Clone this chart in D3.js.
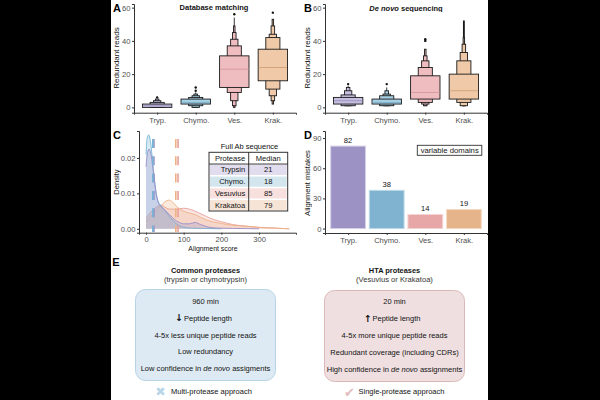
<!DOCTYPE html>
<html>
<head>
<meta charset="utf-8">
<script src="https://cdn.jsdelivr.net/npm/d3@7"></script>
<style>
  html, body { margin: 0; padding: 0; background: #000; }
  svg { display: block; font-family: "Liberation Sans", Arial, sans-serif; }
  svg text { opacity: 0.99; }
  .tick text { fill: #4d4d4d; font-size: 7.6px; font-family: "Liberation Sans", Arial, sans-serif; }
  .tick line, .domain { stroke: #333; }
</style>
</head>
<body>
<svg id="chart" width="600" height="400"></svg>
<script>
const categories = ['Tryp.', 'Chymo.', 'Ves.', 'Krak.'];
const proteases = ['Trypsin', 'Chymo.', 'Vesuvius', 'Krakatoa'];
const medians = [21, 18, 85, 79];
const mistakes = [82, 38, 14, 19];

// letter values, widest box first: [low, high]
const dbLevels = [
  [[0, 2], [0, 3], [0, 4], [0, 5]],
  [[2, 5], [1, 6], [0, 7], [0, 8]],
  [[12, 31], [9, 37], [4, 41], [1, 45], [0, 49]],
  [[16, 35], [11, 42], [7, 44], [4, 49], [2, 53]]
];
const dbMedians = [1, 3, 23, 24];
const dbWhiskers = [[0, 5], [0, 9], [0, 54], [2, 53]];
const dbOutliers = [[6], [10, 12], [56], [57]];

const dnLevels = [
  [[2, 6], [1, 7.5], [1, 10], [1, 12]],
  [[2, 5], [1, 7], [1, 8], [1, 10]],
  [[5, 19], [3, 24], [2, 28], [1, 31], [1, 35]],
  [[5, 20], [3, 28], [1, 33], [1, 38], [1, 42], [1, 52]]
];
const dnMedians = [4, 3, 9, 10];
const dnWhiskers = [[1, 13], [1, 12], [1, 35], [1, 52]];
const dnOutliers = [[14], [14], [40, 41], []];

const levelWidths = [1, 0.48, 0.25, 0.12, 0.05, 0.03];

const densityX = {
  tryp: [0, 4, 8, 14, 20, 26, 32, 40, 50, 60, 70, 80, 90, 100, 115, 130, 145, 165, 190, 230, 300],
  chymo: [0, 3, 7, 12, 18, 24, 30, 38, 48, 60, 70, 80, 90, 100, 120, 150, 200],
  ves: [0, 20, 40, 60, 80, 100, 120, 140, 160, 180, 200, 230, 260, 300, 340, 380],
  krak: [0, 20, 40, 60, 70, 80, 100, 130, 160, 180, 200, 230, 260, 300, 340, 380]
};
const densityY = {
  tryp: [0.0175, 0.0215, 0.0225, 0.0205, 0.0155, 0.0105, 0.0075, 0.0062, 0.0053, 0.0042, 0.0032, 0.0023, 0.0017, 0.0014, 0.0014, 0.0018, 0.0012, 0.0005, 0.0002, 0.0001, 0],
  chymo: [0.021, 0.0255, 0.0265, 0.0245, 0.0185, 0.0125, 0.0085, 0.0068, 0.0055, 0.0038, 0.0025, 0.0015, 0.0008, 0.0005, 0.0002, 0.0001, 0],
  ves: [0.003, 0.0055, 0.0066, 0.0056, 0.0055, 0.0058, 0.0054, 0.0045, 0.0035, 0.0026, 0.002, 0.0012, 0.0008, 0.0004, 0.0002, 0],
  krak: [0.002, 0.0045, 0.0066, 0.0081, 0.0076, 0.0064, 0.005, 0.004, 0.0025, 0.0019, 0.0015, 0.001, 0.0008, 0.0004, 0.0002, 0]
};

const fills = ['#c6bfe0', '#a8d0e4', '#efbcc0', '#f0caa8'];
const medianColors = ['#9f95c4', '#7eb2cf', '#d99a9e', '#d3a47c'];
const lineColors = ['#9b8fc9', '#74b6d3', '#e8a09c', '#eeb184'];
const barFills = ['#9d92c4', '#7fb3d0', '#e7a7a7', '#e6b48a'];
const barStrokes = ['#d5d0e8', '#bcd9e8', '#f3d3d3', '#f3dac5'];
const rowFills = ['#e1ddee', '#d3e5ed', '#f7e0de', '#f6e5d7'];

const svg = d3.select('#chart');
svg.append('rect').attr('x', 111).attr('y', 0).attr('width', 377).attr('height', 400).attr('fill', '#fff');

function addText(x, y, str, opts = {}) {
  return svg.append('text')
    .attr('x', x).attr('y', y)
    .attr('text-anchor', opts.anchor || 'middle')
    .attr('dominant-baseline', 'central')
    .attr('font-size', opts.size || 7.5)
    .attr('font-weight', opts.weight || 'normal')
    .attr('font-family', opts.family || null)
    .attr('fill', opts.fill || '#111')
    .text(str);
}

function addYTitle(x, y, str, size) {
  addText(0, 0, str, { size: size || 7.6 }).attr('transform', `translate(${x},${y}) rotate(-90)`);
}

function drawAxes(xScale, yScale, yTicks, yFormat, baseline, left) {
  svg.append('g').attr('transform', `translate(0,${baseline})`)
    .call(d3.axisBottom(xScale).tickSizeOuter(0).tickSize(2).tickPadding(2.5));
  svg.append('g').attr('transform', `translate(${left},0)`)
    .call(d3.axisLeft(yScale).tickValues(yTicks).tickFormat(yFormat).tickSizeOuter(0).tickSize(2).tickPadding(1.5));
}

function drawLetterValues(x, y, levels, meds, whiskers, outliers) {
  categories.forEach((cat, i) => {
    const cx = x(cat);
    svg.append('line')
      .attr('x1', cx).attr('x2', cx)
      .attr('y1', y(whiskers[i][0])).attr('y2', y(whiskers[i][1]))
      .attr('stroke', '#222').attr('stroke-width', 0.9);
    // narrow boxes go first so the wide one stays on top
    levels[i].slice().reverse().forEach((lv, k) => {
      const w = 29.4 * levelWidths[levels[i].length - 1 - k];
      svg.append('rect')
        .attr('x', cx - w / 2).attr('width', w)
        .attr('y', y(lv[1])).attr('height', y(lv[0]) - y(lv[1]))
        .attr('fill', fills[i])
        .attr('stroke', '#1a1a1a').attr('stroke-width', 0.9);
    });
    svg.append('line')
      .attr('x1', cx - 14.2).attr('x2', cx + 14.2)
      .attr('y1', y(meds[i])).attr('y2', y(meds[i]))
      .attr('stroke', medianColors[i]).attr('stroke-width', 1);
    svg.selectAll(null).data(outliers[i]).enter().append('circle')
      .attr('cx', cx).attr('cy', d => y(d)).attr('r', 1.2).attr('fill', '#111');
  });
}

// A
const xA = d3.scalePoint().domain(categories).range([134, 296]).padding(0.6);
const yReads = d3.scaleLinear().domain([-3.2, 62.2]).range([112.7, 4]);
drawLetterValues(xA, yReads, dbLevels, dbMedians, dbWhiskers, dbOutliers);
drawAxes(xA, yReads, [0, 20, 40, 60], d3.format('d'), 112.7, 134);
addText(214, 7.5, 'Database matching', { weight: 'bold', size: 7.5 });
addYTitle(116, 58, 'Redundant reads', 8);

// B
const xB = d3.scalePoint().domain(categories).range([325, 487]).padding(0.6);
drawLetterValues(xB, yReads, dnLevels, dnMedians, dnWhiskers, dnOutliers);
drawAxes(xB, yReads, [0, 20, 40, 60], d3.format('d'), 112.7, 325);
const titleB = addText(406, 7.5, '', { weight: 'bold', size: 7.5 });
titleB.append('tspan').attr('font-style', 'italic').text('De novo');
titleB.append('tspan').text(' sequencing');
addYTitle(307, 58, 'Redundant reads', 8);

// C
const xC = d3.scaleLinear().domain([-18.6, 398]).range([139, 296]);
const yC = d3.scaleLinear().domain([-0.0011, 0.0276]).range([232.7, 131]);
const keys = ['ves', 'krak', 'chymo', 'tryp'];
const keyColor = { tryp: 0, chymo: 1, ves: 2, krak: 3 };
keys.forEach(k => {
  const pts = d3.zip(densityX[k], densityY[k]);
  const c = lineColors[keyColor[k]];
  svg.append('path')
    .attr('d', d3.area().x(d => xC(d[0])).y0(yC(0)).y1(d => yC(d[1])).curve(d3.curveMonotoneX)(pts))
    .attr('fill', c).attr('fill-opacity', 0.28);
  svg.append('path')
    .attr('d', d3.line().x(d => xC(d[0])).y(d => yC(d[1])).curve(d3.curveMonotoneX)(pts))
    .attr('fill', 'none').attr('stroke', c).attr('stroke-width', 0.9);
});
medians.forEach((m, i) => {
  svg.append('line')
    .attr('x1', xC(m)).attr('x2', xC(m))
    .attr('y1', 139).attr('y2', 232)
    .attr('stroke', lineColors[i]).attr('stroke-width', 1.6)
    .attr('stroke-dasharray', '9 8.3');
});
svg.append('g').attr('transform', 'translate(0,232.7)')
  .call(d3.axisBottom(xC).tickValues([0, 100, 200, 300]).tickSizeOuter(0).tickSize(2).tickPadding(2));
svg.append('g').attr('transform', 'translate(139,0)')
  .call(d3.axisLeft(yC).tickValues([0, 0.01, 0.02]).tickFormat(d3.format('.2f')).tickSizeOuter(0).tickSize(2).tickPadding(1.5));
addYTitle(116, 182, 'Density');
addText(213, 248, 'Alignment score', { size: 6.9 });

// table in panel C
const colX = [209, 248.7, 287.7];
const rowY = d3.scaleBand().domain(d3.range(5)).range([152.3, 211]);
proteases.forEach((p, i) => {
  svg.append('rect')
    .attr('x', colX[0] + 1).attr('width', colX[2] - colX[0] - 2)
    .attr('y', rowY(i + 1) + 0.8).attr('height', rowY.bandwidth() - 1.6)
    .attr('fill', rowFills[i]);
  addText(245.3, rowY(i + 1) + rowY.bandwidth() / 2, p, { anchor: 'end', size: 7.6 });
  addText(268.2, rowY(i + 1) + rowY.bandwidth() / 2, medians[i], { size: 7.6 });
});
addText(245.3, rowY(0) + rowY.bandwidth() / 2, 'Protease', { anchor: 'end', size: 7.6 });
addText(268.2, rowY(0) + rowY.bandwidth() / 2, 'Median', { size: 7.6 });
addText(249.5, 146, 'Full Ab sequence', { size: 7.5 });
svg.append('rect').attr('x', colX[0]).attr('y', 152.3).attr('width', colX[2] - colX[0]).attr('height', 58.7)
  .attr('fill', 'none').attr('stroke', '#333').attr('stroke-width', 1);
svg.append('line').attr('x1', colX[1]).attr('x2', colX[1]).attr('y1', 152.3).attr('y2', 211)
  .attr('stroke', '#222').attr('stroke-width', 0.9);
svg.append('line').attr('x1', colX[0]).attr('x2', colX[2]).attr('y1', rowY(1)).attr('y2', rowY(1))
  .attr('stroke', '#222').attr('stroke-width', 0.9);

// D
const yD = d3.scaleLinear().domain([-4.4, 97]).range([233, 131]);
const xD = d3.scaleBand().domain(categories).range([330.7, 481.3]).paddingInner(0.1);
svg.selectAll('.bar').data(categories).enter().append('rect')
  .attr('class', 'bar')
  .attr('x', d => xD(d)).attr('width', xD.bandwidth())
  .attr('y', (d, i) => yD(mistakes[i])).attr('height', (d, i) => yD(0) - yD(mistakes[i]))
  .attr('fill', (d, i) => barFills[i])
  .attr('stroke', (d, i) => barStrokes[i]).attr('stroke-width', 1);
svg.selectAll('.bar-label').data(categories).enter().append('text')
  .attr('class', 'bar-label')
  .attr('x', d => xD(d) + xD.bandwidth() / 2)
  .attr('y', (d, i) => yD(mistakes[i]) - 6)
  .attr('text-anchor', 'middle').attr('dominant-baseline', 'central')
  .attr('font-size', 7.6).attr('fill', '#111')
  .text((d, i) => mistakes[i]);
drawAxes(xB, yD, [0, 30, 60, 90], d3.format('d'), 233, 325);
addYTitle(307, 183, 'Alignment mistakes');
svg.append('rect').attr('x', 417.3).attr('y', 145.3).attr('width', 64.5).attr('height', 10)
  .attr('fill', '#fff').attr('stroke', '#333').attr('stroke-width', 0.9);
addText(449.7, 150.5, 'variable domains', { size: 7.7 });

// panel letters
[['A', 117, 8], ['B', 308, 8], ['C', 117, 135], ['D', 308, 135], ['E', 116, 262]].forEach(d => {
  addText(d[1], d[2], d[0], { weight: 'bold', size: 11, fill: '#000' });
});

// E
function summaryBox(x, y, w, h, fill, stroke) {
  svg.append('rect').attr('x', x).attr('y', y).attr('width', w).attr('height', h)
    .attr('rx', 10).attr('fill', fill).attr('stroke', stroke).attr('stroke-width', 1);
}

function deNovoLine(cx, y, before, after) {
  const t = addText(cx, y, '', { size: 7.55 });
  t.append('tspan').text(before);
  t.append('tspan').attr('font-style', 'italic').text('de novo');
  t.append('tspan').text(after);
}

summaryBox(135.5, 289.5, 140, 91, '#deeaf3', '#b5d4e6');
addText(205.5, 270, 'Common proteases', { weight: 'bold', size: 7.4 });
addText(205.5, 279.5, '(trypsin or chymotrypsin)', { size: 7.6, fill: '#333' });
addText(205.5, 301, '960 min', { size: 7.5 });
addText(179.2, 317.5, '↓', { size: 9.5, weight: 'bold', family: 'DejaVu Sans' });
addText(184, 318, 'Peptide length', { size: 7.5, anchor: 'start' });
addText(205.5, 335, '4-5x less unique peptide reads', { size: 7.5 });
addText(205.5, 351.7, 'Low redundancy', { size: 7.5 });
deNovoLine(205.5, 368, 'Low confidence in ', ' assigments');
addText(160.5, 391, '✖', { size: 12.5, fill: '#b9d6e8', family: 'DejaVu Sans' });
addText(171, 391, 'Multi-protease approach', { size: 7.5, anchor: 'start' });

summaryBox(324.5, 290.5, 140, 91, '#efdfe0', '#dcb9b9');
addText(394.5, 270, 'HTA proteases', { weight: 'bold', size: 7.4 });
addText(394.5, 279.5, '(Vesuvius or Krakatoa)', { size: 7.6, fill: '#333' });
addText(394.5, 301.5, '20 min', { size: 7.5 });
addText(368, 318, '↑', { size: 9.5, weight: 'bold', family: 'DejaVu Sans' });
addText(372.5, 318.5, 'Peptide length', { size: 7.5, anchor: 'start' });
addText(394.5, 335.5, '4-5x more unique peptide reads', { size: 7.5 });
addText(394.5, 352, 'Redundant coverage (including CDRs)', { size: 7.5 });
deNovoLine(394.5, 369, 'High confidence in ', ' assignments');
addText(349.5, 392, '✔', { size: 13, fill: '#e3bdbd', family: 'DejaVu Sans' });
addText(358.5, 391, 'Single-protease approach', { size: 7.5, anchor: 'start' });
</script>
</body>
</html>
